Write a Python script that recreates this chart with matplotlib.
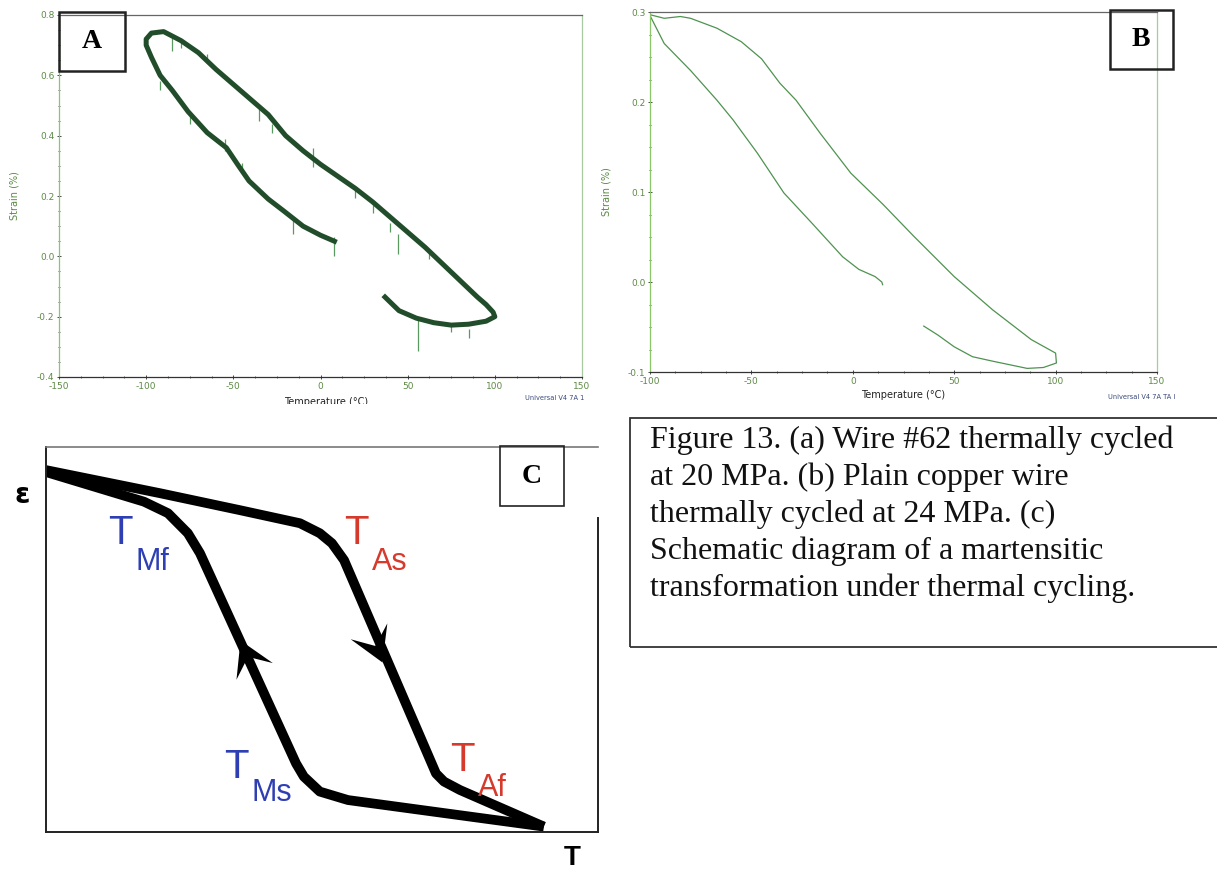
import matplotlib
matplotlib.use("Agg")
import matplotlib.pyplot as plt
from matplotlib.patches import Rectangle
from matplotlib.path import Path
import numpy as np

plt.rcParams["axes.unicode_minus"] = False

# ---- panel A: wire #62, 20 MPa ----
a_temp = [37, 45, 55, 65, 75, 85, 95, 100, 99, 95, 90, 80, 70, 60, 50, 40, 30, 20, 10, 0,
          -10, -20, -30, -40, -50, -60, -70, -80, -90, -97, -100,
          -100, -97, -92, -85, -76, -65, -54, -47, -41, -30, -21, -10, 0, 8]
a_strain = [-0.135, -0.18, -0.205, -0.22, -0.228, -0.225, -0.215, -0.2, -0.185, -0.16, -0.135,
            -0.08, -0.025, 0.03, 0.08, 0.13, 0.18, 0.225, 0.265, 0.305,
            0.35, 0.40, 0.47, 0.52, 0.57, 0.62, 0.675, 0.715, 0.745, 0.74, 0.72,
            0.70, 0.66, 0.60, 0.55, 0.48, 0.41, 0.36, 0.30, 0.25, 0.19, 0.15, 0.10, 0.07, 0.05]
# downward noise spikes: (temperature, top, bottom)
a_spike_t = [55.8, 44.2, 85, 7.7, -15.5, -75, -92, -85, -65, -4.4, 40, 62, 75, -55, -35,
             -28, -80, -45, 20, 30]
a_spike_top = [-0.208, 0.074, -0.24, 0.063, 0.13, 0.48, 0.58, 0.737, 0.67, 0.36, 0.11, 0.02,
               -0.22, 0.39, 0.49, 0.44, 0.72, 0.31, 0.22, 0.17]
a_spike_bot = [-0.313, 0.008, -0.27, 0.002, 0.074, 0.44, 0.55, 0.68, 0.64, 0.295, 0.08, -0.01,
               -0.25, 0.35, 0.45, 0.41, 0.69, 0.28, 0.195, 0.145]

# ---- panel B: plain copper wire, 24 MPa ----
b_temp = [35, 42, 50, 59, 69, 86, 94, 100.4, 100, 88, 69, 50, 30, 15, -1, -16, -28, -36, -45,
          -55, -67, -80, -85, -93, -100,
          -100, -93, -80, -67, -59, -47, -34, -20, -5, 3, 11, 14.3, 14.7]
b_strain = [-0.049, -0.059, -0.072, -0.083, -0.088, -0.096, -0.095, -0.09, -0.079, -0.064,
            -0.031, 0.006, 0.051, 0.086, 0.121, 0.165, 0.202, 0.221, 0.248,
            0.267, 0.282, 0.293, 0.295, 0.293, 0.297,
            0.296, 0.265, 0.235, 0.202, 0.18, 0.143, 0.099, 0.065, 0.028, 0.014, 0.006, 0.0, -0.003]

# ---- panel C: schematic loop (normalised T, strain) ----
c_heat_t = [0.0, 0.2065, 0.351, 0.46, 0.496, 0.518, 0.54, 0.7065, 0.721, 0.75, 0.902]
c_heat_e = [0.94, 0.88, 0.836, 0.802, 0.776, 0.75, 0.706, 0.152, 0.131, 0.109, 0.014]
c_cool_t = [0.902, 0.547, 0.496, 0.467, 0.453, 0.279, 0.257, 0.221, 0.1775, 0.0]
c_cool_e = [0.014, 0.083, 0.105, 0.144, 0.178, 0.724, 0.776, 0.828, 0.858, 0.935]
# arrow tips on the two steep branches
c_arrow_t = [0.351, 0.609]
c_arrow_e = [0.499, 0.442]
c_arrow_deg = [114.6, -66.6]

caption = ["Figure 13. (a) Wire #62 thermally cycled",
           "at 20 MPa. (b) Plain copper wire",
           "thermally cycled at 24 MPa. (c)",
           "Schematic diagram of a martensitic",
           "transformation under thermal cycling."]

W, H = 1217, 873
fig = plt.figure(figsize=(W / 100, H / 100), dpi=100)


def box(x0, y0, x1, y1):
    # pixel box -> figure fraction [left, bottom, width, height]
    return [x0 / W, 1 - y1 / H, (x1 - x0) / W, (y1 - y0) / H]


tick_col = "#5d8a45"


def ta_style(ax):
    ax.spines["left"].set_color("#8cc66a")
    ax.spines["bottom"].set_color("#333333")
    ax.spines["top"].set_color("#666666")
    ax.spines["right"].set_color("#a9c9a0")
    for s in ax.spines.values():
        s.set_linewidth(0.9)
    ax.tick_params(labelsize=6.5, labelcolor=tick_col, length=3.5, width=0.7,
                   color="#444444", direction="inout", pad=1.5)
    ax.tick_params(which="minor", length=2, width=0.6, color="#444444", direction="inout")
    ax.set_ylabel("Strain (%)", fontsize=7, color=tick_col, labelpad=2)


# panel A
axA = fig.add_axes(box(59, 15, 582, 377))
axA.vlines(a_spike_t, a_spike_bot, a_spike_top, color="#5a9a60", lw=0.9)
axA.plot(a_temp, a_strain, color="#214d2b", lw=3.6, solid_joinstyle="round")
axA.set_xlim(-150, 150)
axA.set_ylim(-0.4, 0.8)
axA.set_xticks(np.arange(-150, 151, 50))
axA.set_xticks(np.arange(-150, 151, 12.5), minor=True)
axA.set_yticks(np.arange(-0.4, 0.81, 0.2))
axA.set_yticks(np.arange(-0.4, 0.81, 0.05), minor=True)
axA.set_yticklabels(["-0.4", "-0.2", "0.0", "0.2", "0.4", "0.6", "0.8"])
ta_style(axA)
axA.yaxis.set_label_coords(-0.075, 0.5)
xl = fig.text(326 / W, 1 - 402 / H, "Temperature (°C)", fontsize=7, ha="center", va="center",
              color="#222222")
clip = Rectangle((0, 1 - 404 / H), 1, 1, transform=fig.transFigure, visible=False)
fig.add_artist(clip)
xl.set_clip_path(clip)
fig.text(584 / W, 1 - 398 / H, "Universal V4 7A 1", fontsize=4.8, ha="right", va="center",
         color="#3a4a7a")
fig.add_artist(Rectangle((59 / W, 1 - 71 / H), 66 / W, 59 / H, transform=fig.transFigure,
                         fill=False, ec="#222222", lw=1.8))
fig.text(92 / W, 1 - 42 / H, "A", fontsize=20, fontweight="bold", family="Liberation Serif",
         ha="center", va="center")

# panel B
axB = fig.add_axes(box(650, 12, 1157, 372))
axB.plot(b_temp, b_strain, color="#4f9250", lw=0.9)
axB.set_xlim(-100, 150)
axB.set_ylim(-0.1, 0.3)
axB.set_xticks(np.arange(-100, 151, 50))
axB.set_xticks(np.arange(-100, 151, 12.5), minor=True)
axB.set_yticks(np.arange(-0.1, 0.31, 0.1))
axB.set_yticks(np.arange(-0.1, 0.31, 0.025), minor=True)
axB.set_yticklabels(["-0.1", "0.0", "0.1", "0.2", "0.3"])
ta_style(axB)
axB.yaxis.set_label_coords(-0.075, 0.5)
axB.set_xlabel("Temperature (°C)", fontsize=7, color="#222222", labelpad=3)
fig.text(1175 / W, 1 - 397 / H, "Universal V4 7A TA I", fontsize=4.8, ha="right", va="center",
         color="#3a4a7a")
fig.add_artist(Rectangle((1110 / W, 1 - 69 / H), 63 / W, 59 / H, transform=fig.transFigure,
                         fill=False, ec="#222222", lw=1.8))
fig.text(1141 / W, 1 - 40 / H, "B", fontsize=20, fontweight="bold", family="Liberation Serif",
         ha="center", va="center")

# panel C
axC = fig.add_axes(box(46, 447, 598, 832))
axC.plot(c_heat_t, c_heat_e, color="black", lw=7, solid_joinstyle="round", solid_capstyle="butt")
axC.plot(c_cool_t, c_cool_e, color="black", lw=7, solid_joinstyle="round", solid_capstyle="butt")

# barbed arrow head, tip at origin, pointing along +x
head = np.array([[0, 0], [-34, 20], [-18, 0], [-34, -20], [0, 0]], dtype=float)
for t, e, deg in zip(c_arrow_t, c_arrow_e, c_arrow_deg):
    r = np.deg2rad(deg)
    rot = np.array([[np.cos(r), -np.sin(r)], [np.sin(r), np.cos(r)]])
    v = head @ rot.T
    m = Path(v, [Path.MOVETO] + [Path.LINETO] * 3 + [Path.CLOSEPOLY])
    axC.plot([t], [e], marker=m, markersize=2 * np.abs(v).max() * 0.72,
             color="black", mew=0)

axC.set_xlim(0, 1)
axC.set_ylim(0, 1)
axC.set_xticks([])
axC.set_yticks([])
for s in ["left", "bottom"]:
    axC.spines[s].set_linewidth(1.4)
    axC.spines[s].set_color("#222222")
axC.spines["top"].set_color("#777777")
axC.spines["top"].set_linewidth(1.2)
axC.spines["right"].set_visible(False)
axC.plot([1, 1], [0, 0.816], color="#222222", lw=1.4, clip_on=False)

blue = "#2e3fb4"
red = "#d63a2c"
sans = "Liberation Sans"
for tx, ty, sx, sy, sub, col in [(120, 533, 152, 562, "Mf", blue),
                                 (356, 533, 390, 562, "As", red),
                                 (236, 767, 272, 793, "Ms", blue),
                                 (462, 760, 492, 788, "Af", red)]:
    fig.text(tx / W, 1 - ty / H, "T", fontsize=29, color=col, family=sans,
             ha="center", va="center")
    fig.text(sx / W, 1 - sy / H, sub, fontsize=22, color=col, family=sans,
             ha="center", va="center")
fig.add_artist(Rectangle((500 / W, 1 - 506 / H), 64 / W, 60 / H, transform=fig.transFigure,
                         fill=False, ec="#222222", lw=1.2))
fig.text(532 / W, 1 - 477 / H, "C", fontsize=20, fontweight="bold", family="Liberation Serif",
         ha="center", va="center")
fig.text(22 / W, 1 - 495 / H, "ε", fontsize=20, fontweight="bold", family="DejaVu Sans",
         ha="center", va="center")
fig.text(572 / W, 1 - 858 / H, "T", fontsize=20, fontweight="bold", family=sans,
         ha="center", va="center")

# caption box
fig.add_artist(Rectangle((630 / W, 1 - 647 / H), 600 / W, 229 / H, transform=fig.transFigure,
                         fill=False, ec="#333333", lw=1.3, clip_on=False))
for i, line in enumerate(caption):
    fig.text(650 / W, 1 - (448 + 37 * i) / H, line, fontsize=23, family="Liberation Serif",
             ha="left", va="baseline", color="#111111")

fig.savefig("out.png", dpi=100)
